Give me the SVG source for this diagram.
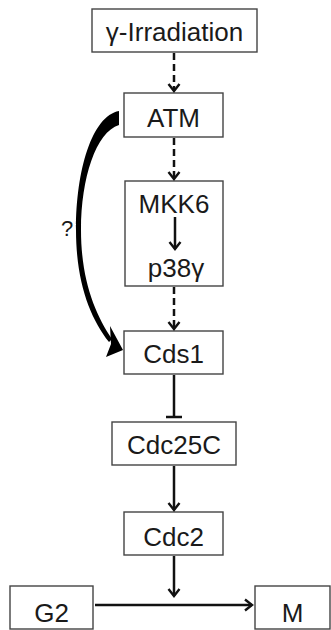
<svg xmlns="http://www.w3.org/2000/svg" width="331" height="630" viewBox="0 0 331 630">
<defs>
<style>
.box{fill:#fff;stroke:#444;stroke-width:1.4}
.lbl{font-family:"Liberation Sans",Arial,sans-serif;font-size:26px;fill:#1a1a1a;text-anchor:middle}
.ln{stroke:#111;stroke-width:2.5;fill:none}
.dash{stroke-dasharray:7 4}
</style>
<marker id="ah" viewBox="-9 -7 11 14" markerWidth="11" markerHeight="14" refX="0" refY="0" orient="auto" markerUnits="userSpaceOnUse">
<path d="M-7,-5.5 L0,0 L-7,5.5" fill="none" stroke="#111" stroke-width="2.4"/>
</marker>
</defs>
<rect width="331" height="630" fill="#fff"/>
<g id="n-irr"><rect class="box" x="92" y="9" width="165" height="43"/><text class="lbl" x="174.5" y="41">γ-Irradiation</text></g>
<g id="n-atm"><rect class="box" x="124" y="93" width="99" height="44"/><text class="lbl" x="173.5" y="127">ATM</text></g>
<g id="n-mkk6"><rect class="box" x="125" y="181" width="98" height="105"/><text class="lbl" x="174" y="213">MKK6</text><text class="lbl" x="176" y="277">p38γ</text></g>
<g id="n-cds1"><rect class="box" x="124" y="331" width="99" height="43"/><text class="lbl" x="173.5" y="363">Cds1</text></g>
<g id="n-cdc25c"><rect class="box" x="112" y="422" width="124" height="43"/><text class="lbl" x="174" y="454">Cdc25C</text></g>
<g id="n-cdc2"><rect class="box" x="124" y="512" width="99" height="43"/><text class="lbl" x="173.5" y="546">Cdc2</text></g>
<g id="n-g2"><rect class="box" x="10" y="586" width="83" height="43"/><text class="lbl" x="51.5" y="622">G2</text></g>
<g id="n-m"><rect class="box" x="255" y="586" width="75" height="43"/><text class="lbl" x="292.5" y="622">M</text></g>
<g id="connectors">
<line class="ln dash" x1="174" y1="53" x2="174" y2="91" marker-end="url(#ah)"/>
<line class="ln dash" x1="174" y1="138" x2="174" y2="179" marker-end="url(#ah)"/>
<line class="ln" x1="175" y1="217" x2="175" y2="249" marker-end="url(#ah)"/>
<line class="ln dash" x1="174" y1="287" x2="174" y2="329" marker-end="url(#ah)"/>
<line class="ln" x1="174" y1="375" x2="174" y2="417"/>
<line class="ln" x1="166" y1="417" x2="182" y2="417"/>
<line class="ln" x1="174" y1="466" x2="174" y2="510" marker-end="url(#ah)"/>
<line class="ln" x1="174" y1="556" x2="174" y2="596" marker-end="url(#ah)"/>
<line class="ln" x1="95" y1="605" x2="252" y2="605" marker-end="url(#ah)"/>
<path d="M119,111 C92,116 76,170 76,230 C76,282 90,318 109,342 L112,339 C95,314 81,280 81,230 C81,178 96,132 119,125 Z" fill="#000"/>
<path d="M110,326 L123,350 L106,357 L111,344 Z" fill="#000"/>
<text class="lbl" x="67" y="236" style="font-size:22px">?</text>
</g>
</svg>
